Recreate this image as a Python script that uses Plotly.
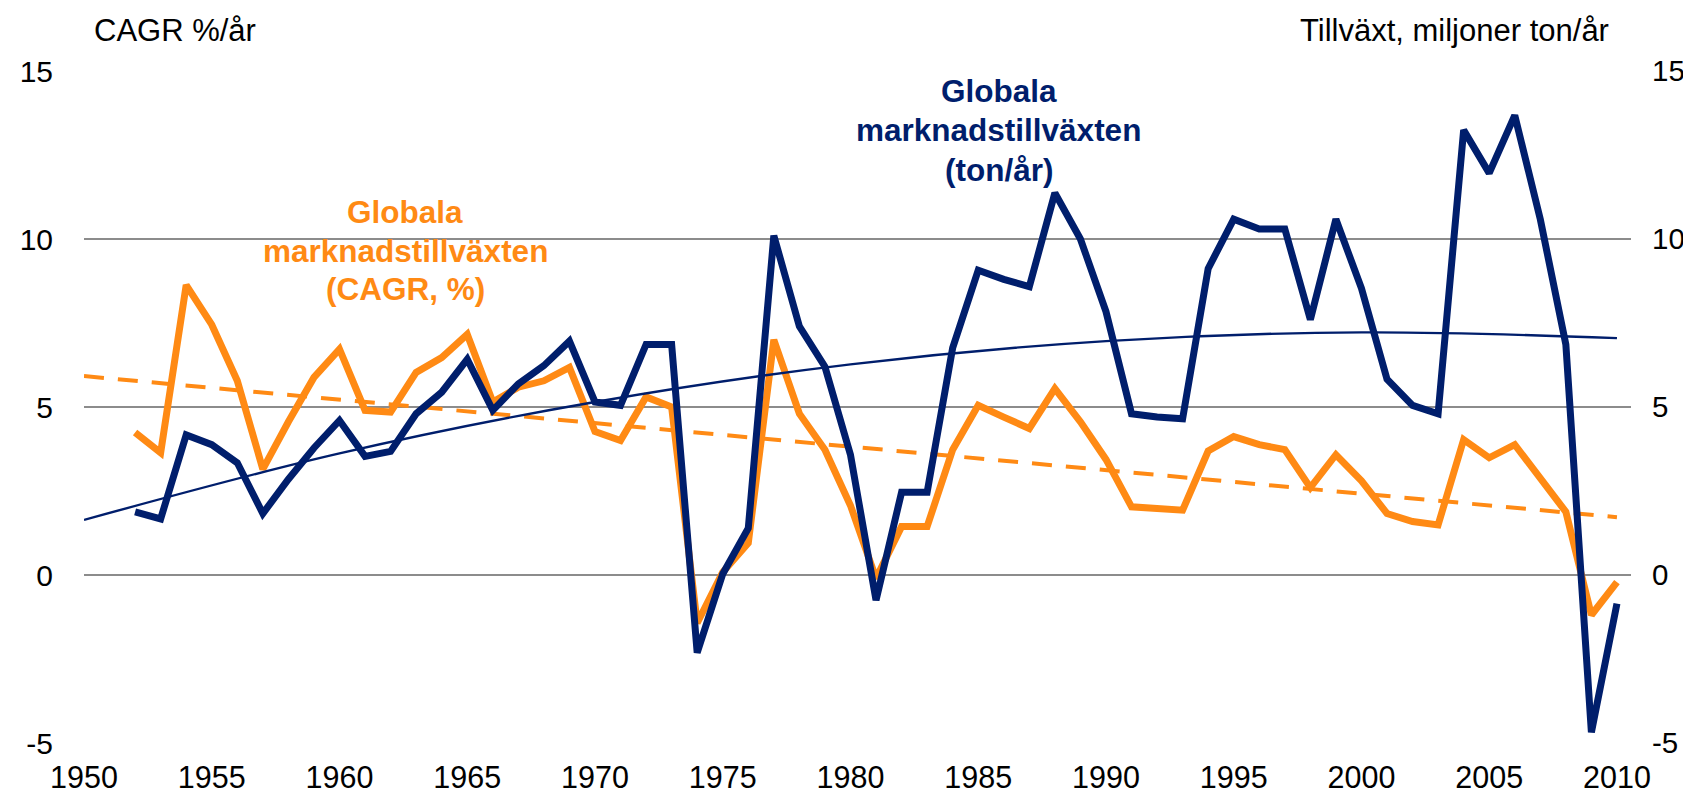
import plotly.graph_objects as go

years = list(range(1952, 2011))

cagr_pct = [4.24, 3.64, 8.63, 7.45, 5.78, 3.15, 4.56, 5.88, 6.72, 4.9,
            4.85, 6.03, 6.47, 7.16, 5.15, 5.59, 5.78, 6.18, 4.27, 4.0,
            5.3, 5.0, -1.43, 0.08, 0.95, 7.0, 4.8, 3.73, 2.07, -0.1,
            1.44, 1.44, 3.73, 5.05, 4.7, 4.36, 5.55, 4.56, 3.44, 2.03,
            1.98, 1.93, 3.69, 4.12, 3.88, 3.73, 2.6, 3.58, 2.8, 1.83,
            1.59, 1.49, 4.03, 3.49, 3.88, 2.9, 1.88, -1.19, -0.21]

tonnes_growth = [1.88, 1.67, 4.17, 3.88, 3.34, 1.83, 2.85, 3.78, 4.6, 3.53,
                 3.68, 4.8, 5.44, 6.42, 4.9, 5.69, 6.23, 6.96, 5.15, 5.05,
                 6.86, 6.86, -2.31, 0.03, 1.39, 10.1, 7.4, 6.2, 3.58, -0.75,
                 2.46, 2.46, 6.76, 9.07, 8.8, 8.58, 11.37, 10.0, 7.84, 4.8,
                 4.7, 4.65, 9.12, 10.59, 10.3, 10.3, 7.6, 10.59, 8.53, 5.83,
                 5.05, 4.8, 13.24, 11.96, 13.68, 10.59, 6.86, -4.68, -0.85]

cagr_trend_years = [1950, 2010]
cagr_trend = [5.92, 1.72]

tonnes_trend_years = [1950, 1960, 1970, 1980, 1990, 2000, 2010]
tonnes_trend = [1.64, 3.62, 5.15, 6.27, 6.96, 7.22, 7.05]

x_ticks = list(range(1950, 2011, 5))
y_ticks = [-5, 0, 5, 10, 15]

label_cagr = ["Globala", "marknadstillväxten", "(CAGR, %)"]
label_tonnes = ["Globala", "marknadstillväxten", "(ton/år)"]

ORANGE = "#FF8A14"
NAVY = "#001E6C"
FONT = "Liberation Sans, Arial, sans-serif"

fig = go.Figure()

fig.add_trace(go.Scatter(x=tonnes_trend_years, y=tonnes_trend, mode="lines",
                         line=dict(color=NAVY, width=2.4, shape="spline"),
                         yaxis="y2", showlegend=False, hoverinfo="skip"))
fig.add_trace(go.Scatter(x=cagr_trend_years, y=cagr_trend, mode="lines",
                         line=dict(color=ORANGE, width=4, dash="20px,14px"),
                         showlegend=False, hoverinfo="skip"))
fig.add_trace(go.Scatter(x=years, y=cagr_pct, mode="lines",
                         line=dict(color=ORANGE, width=7),
                         name="Globala marknadstillväxten (CAGR, %)", showlegend=False))
fig.add_trace(go.Scatter(x=years, y=tonnes_growth, mode="lines",
                         line=dict(color=NAVY, width=7),
                         yaxis="y2",
                         name="Globala marknadstillväxten (ton/år)", showlegend=False))

annotations = [
    dict(text="CAGR %/år", xref="paper", yref="paper", x=0.0052, y=1.06,
         xanchor="left", yanchor="middle", showarrow=False, font=dict(size=31)),
    dict(text="Tillväxt, miljoner ton/år", xref="paper", yref="paper", x=0.9871, y=1.06,
         xanchor="right", yanchor="middle", showarrow=False, font=dict(size=31)),
]
for txt, yy in zip(label_cagr, [10.8, 9.63, 8.5]):
    annotations.append(dict(text=f"<b>{txt}</b>", x=1962.57, y=yy, xanchor="center",
                            yanchor="middle", showarrow=False,
                            font=dict(size=31.5, color=ORANGE)))
for txt, yy in zip(label_tonnes, [14.4, 13.23, 12.06]):
    annotations.append(dict(text=f"<b>{txt}</b>", x=1985.8, y=yy, xanchor="center",
                            yanchor="middle", showarrow=False, yref="y2",
                            font=dict(size=31.5, color=NAVY)))

fig.update_layout(
    width=1691, height=798,
    margin=dict(l=75, r=68, t=63, b=51),
    paper_bgcolor="white", plot_bgcolor="white",
    font=dict(family=FONT, size=30, color="black"),
    xaxis=dict(range=[1950, 2010.55], tickvals=x_ticks, ticktext=[str(t) for t in x_ticks],
               showgrid=False, zeroline=False, showline=False, ticks="",
               ticklabelstandoff=13, tickfont=dict(size=30.5)),
    yaxis=dict(range=[-5, 15], tickvals=y_ticks, ticktext=[str(t) for t in y_ticks],
               showgrid=True, gridcolor="#8C8C8C", gridwidth=2, zeroline=False,
               showline=False, ticks="", ticklabelstandoff=30, tickfont=dict(size=30)),
    yaxis2=dict(range=[-5, 15], tickvals=y_ticks, ticktext=[str(t) for t in y_ticks],
                overlaying="y", side="right", showgrid=False, zeroline=False,
                showline=False, ticks="", ticklabelstandoff=20, tickfont=dict(size=29.5)),
    annotations=annotations,
)

fig.write_html("out.html")
